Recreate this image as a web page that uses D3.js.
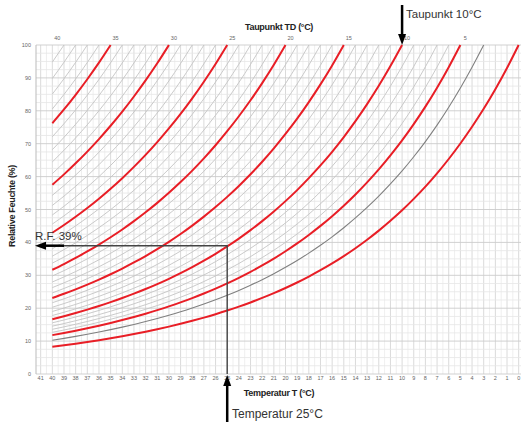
<!DOCTYPE html>
<html>
<head>
<meta charset="utf-8">
<script src="https://cdn.jsdelivr.net/npm/d3@7"></script>
<style>
  body { margin: 0; background: #fff; }
  svg { display: block; }
</style>
</head>
<body>
<svg></svg>
<script>
// saturation vapour pressure over water (hPa) for 0..40 °C
const satTemps = d3.range(0, 41);
const satPressure = [6.11, 6.57, 7.06, 7.58, 8.13, 8.72, 9.35, 10.02, 10.73, 11.48,
  12.28, 13.12, 14.02, 14.97, 15.98, 17.05, 18.18, 19.37, 20.63, 21.97,
  23.37, 24.86, 26.43, 28.09, 29.83, 31.67, 33.61, 35.65, 37.80, 40.06,
  42.43, 44.93, 47.55, 50.30, 53.20, 56.23, 59.42, 62.76, 66.26, 69.93, 73.77];

const redDewPoints = [35, 30, 25, 20, 15, 10, 5, 0];
const grayDewPoints = [39, 38, 37, 36, 34, 33, 32, 31, 29, 28, 27, 26, 24, 23, 22, 21,
  19, 18, 17, 16, 14, 13, 12, 11, 9, 8, 7, 6];
const darkDewPoints = [3];

const bottomTicks = d3.range(41, -1, -1);
const topTicks = [40, 35, 30, 25, 20, 15, 10, 5];
const yTicks = [0, 10, 20, 30, 40, 50, 60, 70, 80, 90, 100];

const markTemp = 25;
const markRH = 39;
const markDew = 10;

const width = 521;
const height = 423;
const marginLeft = 36;
const marginRight = 0;
const marginTop = 45;
const plotBottom = 374;

const svg = d3.select("svg").attr("width", width).attr("height", height);

const x = d3.scaleLinear([41.4, -0.2], [marginLeft, width - marginRight]);
const y = d3.scaleLinear([0, 100], [plotBottom, marginTop]);

// grid
const grid = svg.append("g");
grid.selectAll(".vminor")
  .data(d3.range(41, -0.5, -0.5).filter(t => t % 1 !== 0))
  .enter().append("line")
  .attr("x1", d => x(d)).attr("x2", d => x(d))
  .attr("y1", marginTop).attr("y2", plotBottom)
  .attr("stroke", "#ebebeb").attr("stroke-width", 0.8);
grid.selectAll(".vmajor")
  .data(bottomTicks)
  .enter().append("line")
  .attr("x1", d => x(d)).attr("x2", d => x(d))
  .attr("y1", marginTop).attr("y2", plotBottom)
  .attr("stroke", "#d6d6d6").attr("stroke-width", 0.9);
grid.selectAll(".hminor")
  .data(d3.range(0, 101, 2.5).filter(v => v % 10 !== 0))
  .enter().append("line")
  .attr("x1", marginLeft).attr("x2", width)
  .attr("y1", d => y(d)).attr("y2", d => y(d))
  .attr("stroke", "#e6e6e6").attr("stroke-width", 0.8);
grid.selectAll(".hmajor")
  .data(yTicks)
  .enter().append("line")
  .attr("x1", marginLeft).attr("x2", width)
  .attr("y1", d => y(d)).attr("y2", d => y(d))
  .attr("stroke", "#cccccc").attr("stroke-width", 0.9);
grid.append("line")
  .attr("x1", marginLeft).attr("x2", marginLeft)
  .attr("y1", marginTop).attr("y2", plotBottom)
  .attr("stroke", "#bbb");

// dew point curves: RH = es(TD) / es(T)
function curvePoints(td) {
  const es = satPressure[satTemps.indexOf(td)];
  return satTemps.filter(t => t >= td).map(t => ({ t, rh: 100 * es / satPressure[satTemps.indexOf(t)] }));
}

const line = d3.line()
  .x(d => x(d.t))
  .y(d => y(d.rh))
  .curve(d3.curveMonotoneX);

const curves = svg.append("g").attr("fill", "none");
curves.selectAll(".gray")
  .data(grayDewPoints)
  .enter().append("path")
  .attr("d", d => line(curvePoints(d)))
  .attr("stroke", "#c4c4c4").attr("stroke-width", 0.9);
curves.selectAll(".dark")
  .data(darkDewPoints)
  .enter().append("path")
  .attr("d", d => line(curvePoints(d)))
  .attr("stroke", "#808080").attr("stroke-width", 1.1);
curves.selectAll(".red")
  .data(redDewPoints)
  .enter().append("path")
  .attr("d", d => line(curvePoints(d)))
  .attr("stroke", "#e81e26").attr("stroke-width", 2);

// tick labels
const labels = svg.append("g")
  .attr("font-family", "Liberation Sans, Arial, sans-serif")
  .attr("font-size", 5.5).attr("fill", "#666");
labels.selectAll(".bt")
  .data(bottomTicks)
  .enter().append("text")
  .attr("x", d => x(d)).attr("y", 380)
  .attr("text-anchor", "middle")
  .text(d => d);
labels.selectAll(".tt")
  .data(topTicks)
  .enter().append("text")
  .attr("x", d => x(d) + 5).attr("y", 40)
  .attr("text-anchor", "middle")
  .text(d => d);
labels.selectAll(".yt")
  .data(yTicks)
  .enter().append("text")
  .attr("x", 31).attr("y", d => y(d) + 2)
  .attr("text-anchor", "end")
  .text(d => d);

// axis titles
const titles = svg.append("g")
  .attr("font-family", "Liberation Sans, Arial, sans-serif")
  .attr("font-weight", "bold").attr("font-size", 9).attr("fill", "#222");
titles.append("text")
  .attr("x", 279).attr("y", 30).attr("text-anchor", "middle")
  .attr("letter-spacing", -0.3)
  .text("Taupunkt TD (°C)");
titles.append("text")
  .attr("x", 279).attr("y", 396).attr("text-anchor", "middle")
  .attr("letter-spacing", -0.3)
  .text("Temperatur T (°C)");
titles.append("text")
  .attr("transform", "translate(15,206) rotate(-90)")
  .attr("text-anchor", "middle")
  .attr("letter-spacing", -0.3)
  .text("Relative Feuchte (%)");

// annotations
const ann = svg.append("g");
const px = x(markTemp);
const py = y(markRH);
const tx = x(markDew);

ann.append("polyline")
  .attr("points", `${62},${py} ${px},${py} ${px},${plotBottom}`)
  .attr("fill", "none").attr("stroke", "#444").attr("stroke-width", 1.4);

ann.append("line")
  .attr("x1", 64).attr("x2", 44).attr("y1", py).attr("y2", py)
  .attr("stroke", "#000").attr("stroke-width", 2.5);
ann.append("path")
  .attr("d", `M${35},${py} L${46},${py - 4} L${46},${py + 4} Z`)
  .attr("fill", "#000");

ann.append("line")
  .attr("x1", px).attr("x2", px).attr("y1", 422).attr("y2", 384)
  .attr("stroke", "#000").attr("stroke-width", 2.5);
ann.append("path")
  .attr("d", `M${px},${375} L${px - 4},${386} L${px + 4},${386} Z`)
  .attr("fill", "#000");

ann.append("line")
  .attr("x1", tx).attr("x2", tx).attr("y1", 5).attr("y2", 36)
  .attr("stroke", "#000").attr("stroke-width", 2.5);
ann.append("path")
  .attr("d", `M${tx},${marginTop} L${tx - 4},${34} L${tx + 4},${34} Z`)
  .attr("fill", "#000");

const annText = ann.append("g")
  .attr("font-family", "Liberation Sans, Arial, sans-serif")
  .attr("fill", "#333");
annText.append("text").attr("x", 232).attr("y", 418).attr("font-size", 12)
  .text("Temperatur 25°C");
annText.append("text").attr("x", 406).attr("y", 18).attr("font-size", 11.5)
  .text("Taupunkt 10°C");
annText.append("text").attr("x", 35).attr("y", 240).attr("font-size", 11.5)
  .text("R.F. 39%");
</script>
</body>
</html>
